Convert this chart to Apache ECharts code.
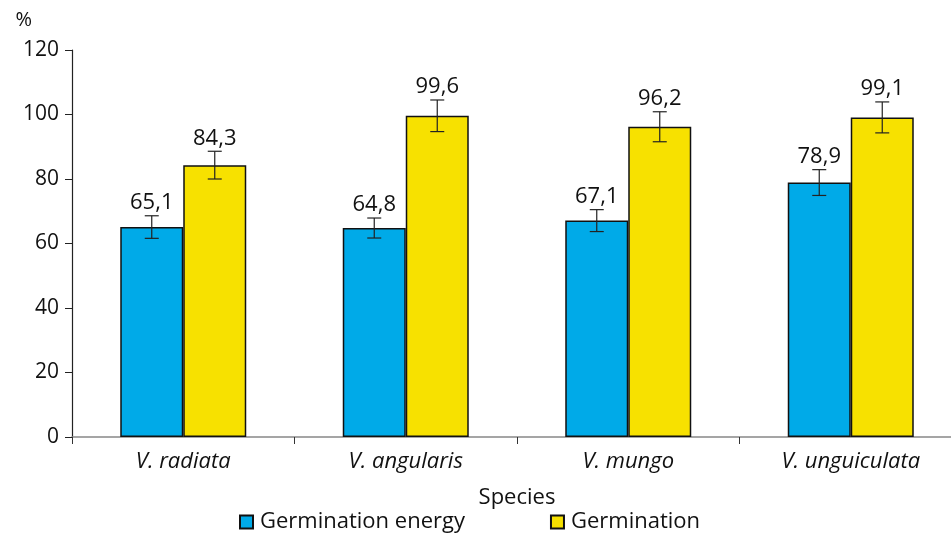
<!DOCTYPE html>
<html><head><meta charset="utf-8">
<script src="https://cdn.jsdelivr.net/npm/echarts@6/dist/echarts.min.js"></script>
<style>html,body{margin:0;padding:0;background:#fff;overflow:hidden}#c{width:966px;height:535px}</style>
</head><body><div id="c"></div>
<script>
const categories = ['V. radiata', 'V. angularis', 'V. mungo', 'V. unguiculata'];
const energy = [65.1, 64.8, 67.1, 78.9];
const energyErr = [3.5, 3.1, 3.4, 4.0];
const germination = [84.3, 99.6, 96.2, 99.1];
const germinationErr = [4.3, 4.9, 4.65, 4.8];
const yTicks = [0, 20, 40, 60, 80, 100, 120];

const FONT = '"Open Sans", "Noto Sans", sans-serif';
const BAR_W = 63;

function errSeries(vals, errs, side) {
  return {
    type: 'custom',
    z: 10,
    data: vals.map((v, i) => [i, v, errs[i]]),
    renderItem: function (params, api) {
      const i = api.value(0), v = api.value(1), e = api.value(2);
      const c = api.coord([i, v]);
      const x = c[0] + side * BAR_W / 2;
      const top = api.coord([i, v + e])[1];
      const bot = api.coord([i, v - e])[1];
      const hw = 7;
      const st = { stroke: '#222', lineWidth: 1.2 };
      return {
        type: 'group',
        children: [
          { type: 'line', shape: { x1: x, y1: top, x2: x, y2: bot }, style: st },
          { type: 'line', shape: { x1: x - hw, y1: top, x2: x + hw, y2: top }, style: st },
          { type: 'line', shape: { x1: x - hw, y1: bot, x2: x + hw, y2: bot }, style: st },
          { type: 'text', x: x, y: top - 2, style: { text: String(v).replace('.', ','), textAlign: 'center', textVerticalAlign: 'bottom', font: '22px ' + FONT, fill: '#111' } }
        ]
      };
    }
  };
}

const chart = echarts.init(document.getElementById('c'));
chart.setOption({
  animation: false,
  grid: { left: 72, top: 50, width: 890, height: 387 },
  legend: {
    top: 506, left: 234, itemGap: 85, itemWidth: 13, itemHeight: 13,
    icon: 'rect',
    textStyle: { fontFamily: FONT, fontSize: 22, color: '#111', padding: [0, 0, 0, 2] },
    data: ['Germination energy', 'Germination']
  },
  xAxis: {
    type: 'category', data: categories,
    name: 'Species', nameLocation: 'middle', nameGap: 50,
    nameTextStyle: { fontFamily: FONT, fontSize: 22, color: '#111' },
    axisLine: { lineStyle: { color: '#888', width: 1.5 } },
    axisTick: { show: true, length: 7, lineStyle: { color: '#333' } },
    axisLabel: { fontFamily: FONT, fontSize: 22, fontStyle: 'italic', color: '#111', margin: 14 }
  },
  yAxis: {
    type: 'value', min: 0, max: 120, interval: 20,
    name: '%', nameLocation: 'end', nameGap: 20,
    nameTextStyle: { fontFamily: FONT, fontSize: 20, color: '#111', align: 'right', padding: [0, 40, 0, 0] },
    axisLine: { show: true, lineStyle: { color: '#222', width: 1.2 } },
    axisTick: { show: true, length: 7, lineStyle: { color: '#222' } },
    axisLabel: { fontFamily: FONT, fontSize: 21, color: '#111', margin: 13,
      formatter: v => yTicks.includes(v) ? String(v) : '' },
    splitLine: { show: false }
  },
  series: [
    { name: 'Germination energy', type: 'bar', data: energy, barWidth: BAR_W, barGap: '0%',
      itemStyle: { color: '#00AAE8', borderColor: '#111', borderWidth: 1.5 } },
    { name: 'Germination', type: 'bar', data: germination, barWidth: BAR_W, barGap: '0%',
      itemStyle: { color: '#F7E100', borderColor: '#111', borderWidth: 1.5 } },
    errSeries(energy, energyErr, -1),
    errSeries(germination, germinationErr, 1)
  ]
});
</script></body></html>
